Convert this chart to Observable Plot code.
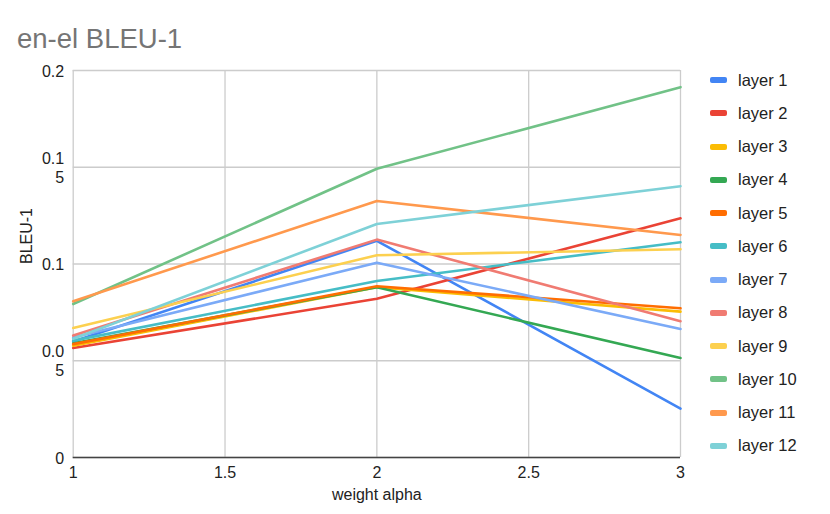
<!DOCTYPE html>
<html>
<head>
<meta charset="utf-8">
<script src="https://cdn.jsdelivr.net/npm/d3@7"></script>
<script src="https://cdn.jsdelivr.net/npm/@observablehq/plot@0.6"></script>
<style>
  body { margin: 0; background: #fff; font-family: "Liberation Sans", Arial, sans-serif; }
  #wrap { position: relative; width: 830px; height: 514px; }
  #title { position: absolute; left: 17px; top: 23px; font-size: 27.5px; color: #757575; }
  #legend { position: absolute; left: 710px; top: 70px; }
  .row { position: absolute; left: 0; height: 20px; display: flex; align-items: center; white-space: nowrap; font-size: 16.5px; color: #222; }
  .sw { width: 17px; height: 6px; border-radius: 2px; margin-right: 11px; }
</style>
</head>
<body>
<div id="wrap">
  <div id="chart"></div>
  <div id="title">en-el BLEU-1</div>
  <div id="legend"></div>
</div>
<script>
const alphas = [1, 2, 3];
const layers = ["layer 1","layer 2","layer 3","layer 4","layer 5","layer 6","layer 7","layer 8","layer 9","layer 10","layer 11","layer 12"];
const colors = ["#4285F4","#EA4335","#FBBC04","#34A853","#FF6D01","#46BDC6","#7BAAF7","#F07B72","#FCD04F","#71C287","#FF994D","#7ED1D7"];
const layer1  = [0.0600, 0.1120, 0.0253];
const layer2  = [0.0566, 0.0820, 0.1236];
const layer3  = [0.0578, 0.0880, 0.0754];
const layer4  = [0.0590, 0.0880, 0.0514];
const layer5  = [0.0586, 0.0885, 0.0771];
const layer6  = [0.0604, 0.0912, 0.1112];
const layer7  = [0.0620, 0.1007, 0.0664];
const layer8  = [0.0630, 0.1126, 0.0704];
const layer9  = [0.0669, 0.1045, 0.1076];
const layer10 = [0.0793, 0.1492, 0.1914];
const layer11 = [0.0807, 0.1326, 0.1150];
const layer12 = [0.0614, 0.1207, 0.1402];
const series = [layer1, layer2, layer3, layer4, layer5, layer6, layer7, layer8, layer9, layer10, layer11, layer12];
const yTicks = [0, 0.05, 0.1, 0.15, 0.2];
const yTickLabels = ["0", "0.0\n5", "0.1", "0.1\n5", "0.2"];
const xTicks = [1, 1.5, 2, 2.5, 3];
const xTickLabels = ["1", "1.5", "2", "2.5", "3"];

const data = [];
series.forEach((vals, i) => vals.forEach((v, j) => data.push({layer: layers[i], alpha: alphas[j], value: v})));

const font = "Liberation Sans, Arial, sans-serif";
const chart = Plot.plot({
  width: 830,
  height: 514,
  marginLeft: 72.7,
  marginRight: 150,
  marginTop: 70,
  marginBottom: 57,
  style: { fontFamily: font, fontSize: "16px", background: "#fff" },
  x: { domain: [1, 3], axis: null },
  y: { domain: [0, 0.2], axis: null },
  color: { domain: layers, range: colors },
  marks: [
    Plot.gridX(xTicks, { stroke: "#cccccc", strokeOpacity: 1, strokeWidth: 1.3 }),
    Plot.gridY(yTicks, { stroke: "#cccccc", strokeOpacity: 1, strokeWidth: 1.3 }),
    Plot.ruleY([0], { stroke: "#444", strokeWidth: 1.3 }),
    Plot.text(yTicks, { y: d => d, text: (d, i) => yTickLabels[i], frameAnchor: "left", dx: -9, textAnchor: "end", lineHeight: 1.2, fill: "#222", fontSize: 16 }),
    Plot.text(xTicks, { x: d => d, text: (d, i) => xTickLabels[i], frameAnchor: "bottom", dy: 20, fill: "#222", fontSize: 16 }),
    Plot.text(["weight alpha"], { frameAnchor: "bottom", dy: 42, fill: "#222", fontSize: 16 }),
    Plot.text(["BLEU-1"], { frameAnchor: "left", dx: -46, rotate: -90, fill: "#222", fontSize: 16 }),
    Plot.line(data, { x: "alpha", y: "value", z: "layer", stroke: "layer", strokeWidth: 2.6 })
  ]
});
document.getElementById("chart").appendChild(chart);

const legend = document.getElementById("legend");
layers.forEach((name, i) => {
  const row = document.createElement("div");
  row.className = "row";
  row.style.top = (i * 33.25) + "px";
  const sw = document.createElement("div");
  sw.className = "sw";
  sw.style.background = colors[i];
  const t = document.createElement("span");
  t.textContent = name;
  row.appendChild(sw);
  row.appendChild(t);
  legend.appendChild(row);
});
</script>
</body>
</html>
